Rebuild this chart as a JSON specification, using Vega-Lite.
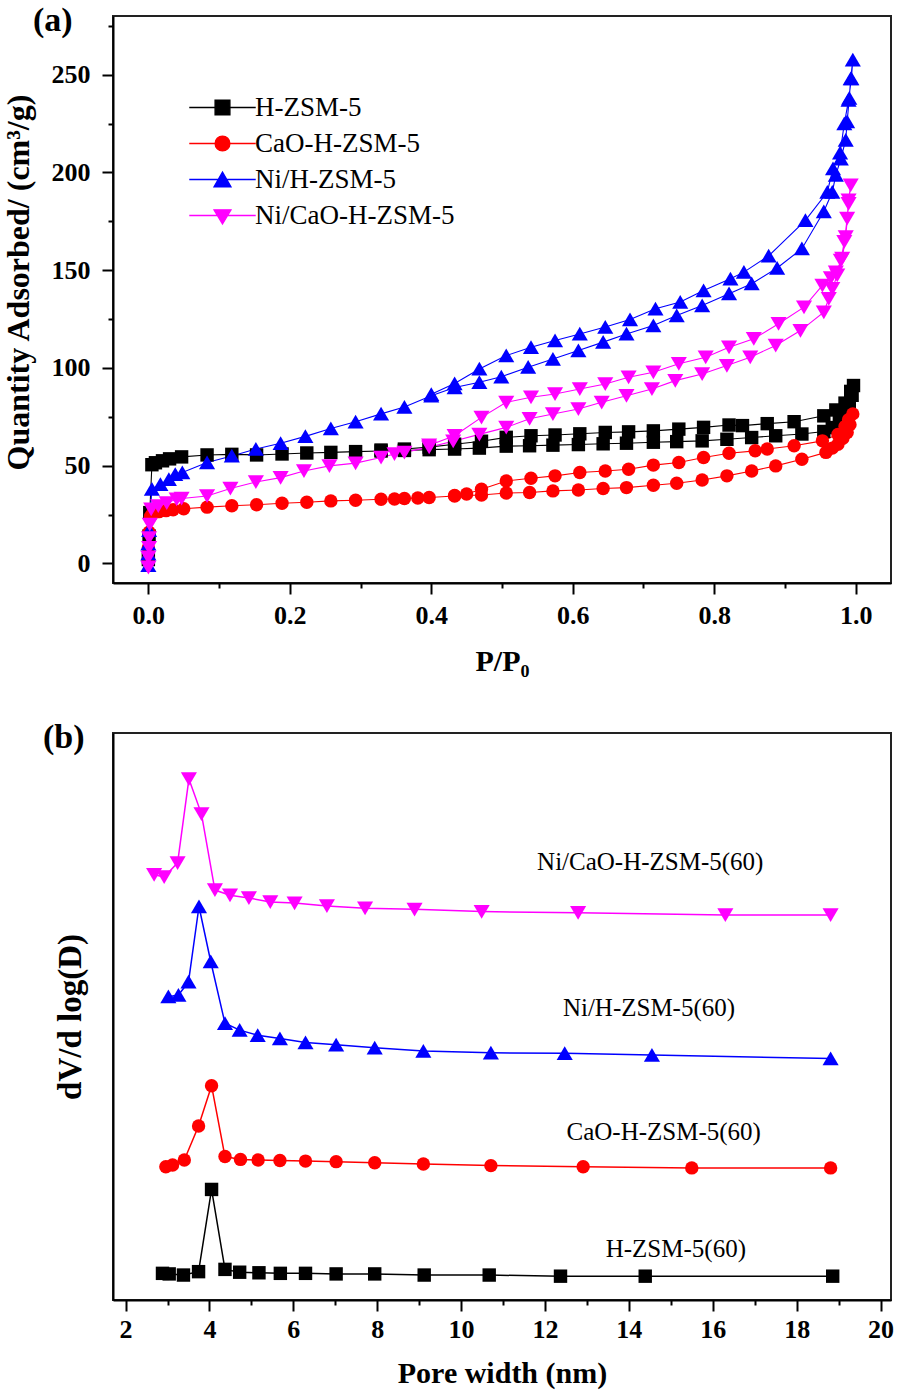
{
  "$schema": "https://vega.github.io/schema/vega-lite/v6.json",
  "padding": {"left": 1, "top": 3, "right": 5, "bottom": 5},
  "spacing": 43,
  "datasets": {
    "iso": [
      {"s":"H-ZSM-5","i":1,"p":0.000,"q":2},{"s":"H-ZSM-5","i":2,"p":0.001,"q":14},{"s":"H-ZSM-5","i":3,"p":0.002,"q":26},{"s":"H-ZSM-5","i":4,"p":0.005,"q":50.5},{"s":"H-ZSM-5","i":5,"p":0.010,"q":51.5},{"s":"H-ZSM-5","i":6,"p":0.020,"q":52.5},{"s":"H-ZSM-5","i":7,"p":0.030,"q":53.5},{"s":"H-ZSM-5","i":8,"p":0.047,"q":54.5},{"s":"H-ZSM-5","i":9,"p":0.083,"q":55.5},{"s":"H-ZSM-5","i":10,"p":0.118,"q":55.8},{"s":"H-ZSM-5","i":11,"p":0.153,"q":55.5},{"s":"H-ZSM-5","i":12,"p":0.189,"q":56.0},{"s":"H-ZSM-5","i":13,"p":0.224,"q":56.5},{"s":"H-ZSM-5","i":14,"p":0.258,"q":56.8},{"s":"H-ZSM-5","i":15,"p":0.293,"q":57.2},{"s":"H-ZSM-5","i":16,"p":0.329,"q":57.5},{"s":"H-ZSM-5","i":17,"p":0.362,"q":57.8},{"s":"H-ZSM-5","i":18,"p":0.397,"q":58.2},{"s":"H-ZSM-5","i":19,"p":0.433,"q":58.5},{"s":"H-ZSM-5","i":20,"p":0.468,"q":59.0},{"s":"H-ZSM-5","i":21,"p":0.506,"q":60.0},{"s":"H-ZSM-5","i":22,"p":0.539,"q":60.2},{"s":"H-ZSM-5","i":23,"p":0.572,"q":60.5},{"s":"H-ZSM-5","i":24,"p":0.608,"q":60.8},{"s":"H-ZSM-5","i":25,"p":0.643,"q":61.2},{"s":"H-ZSM-5","i":26,"p":0.676,"q":61.5},{"s":"H-ZSM-5","i":27,"p":0.714,"q":62.0},{"s":"H-ZSM-5","i":28,"p":0.747,"q":62.3},{"s":"H-ZSM-5","i":29,"p":0.783,"q":62.7},{"s":"H-ZSM-5","i":30,"p":0.818,"q":63.5},{"s":"H-ZSM-5","i":31,"p":0.853,"q":64.4},{"s":"H-ZSM-5","i":32,"p":0.887,"q":65.3},{"s":"H-ZSM-5","i":33,"p":0.924,"q":66.2},{"s":"H-ZSM-5","i":34,"p":0.955,"q":67.5},{"s":"H-ZSM-5","i":35,"p":0.967,"q":69.5},{"s":"H-ZSM-5","i":36,"p":0.977,"q":72.5},{"s":"H-ZSM-5","i":37,"p":0.986,"q":76.5},{"s":"H-ZSM-5","i":38,"p":0.991,"q":81},{"s":"H-ZSM-5","i":39,"p":0.995,"q":86},{"s":"H-ZSM-5","i":40,"p":0.997,"q":91},
      {"s":"H-ZSM-5","i":41,"p":0.993,"q":88},{"s":"H-ZSM-5","i":42,"p":0.985,"q":82},{"s":"H-ZSM-5","i":43,"p":0.972,"q":78.5},{"s":"H-ZSM-5","i":44,"p":0.955,"q":75.5},{"s":"H-ZSM-5","i":45,"p":0.913,"q":72.5},{"s":"H-ZSM-5","i":46,"p":0.875,"q":71.5},{"s":"H-ZSM-5","i":47,"p":0.840,"q":70.5},{"s":"H-ZSM-5","i":48,"p":0.821,"q":70.8},{"s":"H-ZSM-5","i":49,"p":0.785,"q":69.6},{"s":"H-ZSM-5","i":50,"p":0.750,"q":68.7},{"s":"H-ZSM-5","i":51,"p":0.714,"q":67.8},{"s":"H-ZSM-5","i":52,"p":0.679,"q":67.3},{"s":"H-ZSM-5","i":53,"p":0.646,"q":67.0},{"s":"H-ZSM-5","i":54,"p":0.610,"q":66.3},{"s":"H-ZSM-5","i":55,"p":0.575,"q":65.7},{"s":"H-ZSM-5","i":56,"p":0.541,"q":65.3},{"s":"H-ZSM-5","i":57,"p":0.506,"q":64.5},{"s":"H-ZSM-5","i":58,"p":0.471,"q":62.5},{"s":"H-ZSM-5","i":59,"p":0.433,"q":61.0},{"s":"H-ZSM-5","i":60,"p":0.397,"q":59.5},{"s":"H-ZSM-5","i":61,"p":0.362,"q":58.5},{"s":"H-ZSM-5","i":62,"p":0.329,"q":58.0},

      {"s":"CaO-H-ZSM-5","i":1,"p":0.000,"q":2},{"s":"CaO-H-ZSM-5","i":2,"p":0.000,"q":8},{"s":"CaO-H-ZSM-5","i":3,"p":0.001,"q":16},{"s":"CaO-H-ZSM-5","i":4,"p":0.003,"q":24},{"s":"CaO-H-ZSM-5","i":5,"p":0.006,"q":25.5},{"s":"CaO-H-ZSM-5","i":6,"p":0.015,"q":26.5},{"s":"CaO-H-ZSM-5","i":7,"p":0.025,"q":27},{"s":"CaO-H-ZSM-5","i":8,"p":0.035,"q":27.5},{"s":"CaO-H-ZSM-5","i":9,"p":0.050,"q":28},{"s":"CaO-H-ZSM-5","i":10,"p":0.083,"q":28.8},{"s":"CaO-H-ZSM-5","i":11,"p":0.118,"q":29.5},{"s":"CaO-H-ZSM-5","i":12,"p":0.153,"q":30},{"s":"CaO-H-ZSM-5","i":13,"p":0.189,"q":30.8},{"s":"CaO-H-ZSM-5","i":14,"p":0.224,"q":31.3},{"s":"CaO-H-ZSM-5","i":15,"p":0.258,"q":32},{"s":"CaO-H-ZSM-5","i":16,"p":0.293,"q":32.3},{"s":"CaO-H-ZSM-5","i":17,"p":0.329,"q":32.8},{"s":"CaO-H-ZSM-5","i":18,"p":0.348,"q":33},{"s":"CaO-H-ZSM-5","i":19,"p":0.362,"q":33.2},{"s":"CaO-H-ZSM-5","i":20,"p":0.381,"q":33.5},{"s":"CaO-H-ZSM-5","i":21,"p":0.397,"q":33.7},{"s":"CaO-H-ZSM-5","i":22,"p":0.433,"q":34.5},{"s":"CaO-H-ZSM-5","i":23,"p":0.471,"q":35},{"s":"CaO-H-ZSM-5","i":24,"p":0.506,"q":36},{"s":"CaO-H-ZSM-5","i":25,"p":0.539,"q":36.3},{"s":"CaO-H-ZSM-5","i":26,"p":0.572,"q":37.1},{"s":"CaO-H-ZSM-5","i":27,"p":0.608,"q":37.6},{"s":"CaO-H-ZSM-5","i":28,"p":0.643,"q":38.3},{"s":"CaO-H-ZSM-5","i":29,"p":0.676,"q":38.8},{"s":"CaO-H-ZSM-5","i":30,"p":0.714,"q":40},{"s":"CaO-H-ZSM-5","i":31,"p":0.747,"q":41},{"s":"CaO-H-ZSM-5","i":32,"p":0.783,"q":42.7},{"s":"CaO-H-ZSM-5","i":33,"p":0.818,"q":44.8},{"s":"CaO-H-ZSM-5","i":34,"p":0.853,"q":47.3},{"s":"CaO-H-ZSM-5","i":35,"p":0.887,"q":49.9},{"s":"CaO-H-ZSM-5","i":36,"p":0.924,"q":53.3},{"s":"CaO-H-ZSM-5","i":37,"p":0.958,"q":56.8},{"s":"CaO-H-ZSM-5","i":38,"p":0.967,"q":59},{"s":"CaO-H-ZSM-5","i":39,"p":0.975,"q":61},{"s":"CaO-H-ZSM-5","i":40,"p":0.982,"q":64},{"s":"CaO-H-ZSM-5","i":41,"p":0.988,"q":67},{"s":"CaO-H-ZSM-5","i":42,"p":0.992,"q":71},{"s":"CaO-H-ZSM-5","i":43,"p":0.996,"q":76.5},
      {"s":"CaO-H-ZSM-5","i":44,"p":0.990,"q":73.5},{"s":"CaO-H-ZSM-5","i":45,"p":0.985,"q":70},{"s":"CaO-H-ZSM-5","i":46,"p":0.975,"q":66},{"s":"CaO-H-ZSM-5","i":47,"p":0.953,"q":62.7},{"s":"CaO-H-ZSM-5","i":48,"p":0.913,"q":60.2},{"s":"CaO-H-ZSM-5","i":49,"p":0.875,"q":58.5},{"s":"CaO-H-ZSM-5","i":50,"p":0.858,"q":57.6},{"s":"CaO-H-ZSM-5","i":51,"p":0.821,"q":56.4},{"s":"CaO-H-ZSM-5","i":52,"p":0.785,"q":54.2},{"s":"CaO-H-ZSM-5","i":53,"p":0.750,"q":51.6},{"s":"CaO-H-ZSM-5","i":54,"p":0.714,"q":50.3},{"s":"CaO-H-ZSM-5","i":55,"p":0.679,"q":48.2},{"s":"CaO-H-ZSM-5","i":56,"p":0.646,"q":47.3},{"s":"CaO-H-ZSM-5","i":57,"p":0.610,"q":46.5},{"s":"CaO-H-ZSM-5","i":58,"p":0.575,"q":44.8},{"s":"CaO-H-ZSM-5","i":59,"p":0.541,"q":43.6},{"s":"CaO-H-ZSM-5","i":60,"p":0.506,"q":42.2},{"s":"CaO-H-ZSM-5","i":61,"p":0.471,"q":38},{"s":"CaO-H-ZSM-5","i":62,"p":0.450,"q":35.5},{"s":"CaO-H-ZSM-5","i":63,"p":0.433,"q":34.8},

      {"s":"Ni/H-ZSM-5","i":1,"p":0.000,"q":-1},{"s":"Ni/H-ZSM-5","i":2,"p":0.000,"q":5},{"s":"Ni/H-ZSM-5","i":3,"p":0.000,"q":10},{"s":"Ni/H-ZSM-5","i":4,"p":0.001,"q":17},{"s":"Ni/H-ZSM-5","i":5,"p":0.005,"q":38},{"s":"Ni/H-ZSM-5","i":6,"p":0.017,"q":40.5},{"s":"Ni/H-ZSM-5","i":7,"p":0.029,"q":43},{"s":"Ni/H-ZSM-5","i":8,"p":0.038,"q":45.6},{"s":"Ni/H-ZSM-5","i":9,"p":0.048,"q":46.5},{"s":"Ni/H-ZSM-5","i":10,"p":0.083,"q":51.6},{"s":"Ni/H-ZSM-5","i":11,"p":0.118,"q":55},{"s":"Ni/H-ZSM-5","i":12,"p":0.152,"q":58.5},{"s":"Ni/H-ZSM-5","i":13,"p":0.187,"q":61.5},{"s":"Ni/H-ZSM-5","i":14,"p":0.222,"q":65},{"s":"Ni/H-ZSM-5","i":15,"p":0.258,"q":69},{"s":"Ni/H-ZSM-5","i":16,"p":0.293,"q":72.5},{"s":"Ni/H-ZSM-5","i":17,"p":0.329,"q":76.5},{"s":"Ni/H-ZSM-5","i":18,"p":0.362,"q":80},{"s":"Ni/H-ZSM-5","i":19,"p":0.400,"q":85.8},{"s":"Ni/H-ZSM-5","i":20,"p":0.433,"q":90},{"s":"Ni/H-ZSM-5","i":21,"p":0.468,"q":92.7},{"s":"Ni/H-ZSM-5","i":22,"p":0.499,"q":95.5},{"s":"Ni/H-ZSM-5","i":23,"p":0.537,"q":100.4},{"s":"Ni/H-ZSM-5","i":24,"p":0.572,"q":104.6},{"s":"Ni/H-ZSM-5","i":25,"p":0.608,"q":108.9},{"s":"Ni/H-ZSM-5","i":26,"p":0.643,"q":113.2},{"s":"Ni/H-ZSM-5","i":27,"p":0.676,"q":117.4},{"s":"Ni/H-ZSM-5","i":28,"p":0.714,"q":121.7},{"s":"Ni/H-ZSM-5","i":29,"p":0.747,"q":126.8},{"s":"Ni/H-ZSM-5","i":30,"p":0.783,"q":131.9},{"s":"Ni/H-ZSM-5","i":31,"p":0.821,"q":138},{"s":"Ni/H-ZSM-5","i":32,"p":0.853,"q":143.1},{"s":"Ni/H-ZSM-5","i":33,"p":0.889,"q":151.1},{"s":"Ni/H-ZSM-5","i":34,"p":0.924,"q":161},{"s":"Ni/H-ZSM-5","i":35,"p":0.955,"q":180},{"s":"Ni/H-ZSM-5","i":36,"p":0.967,"q":190},{"s":"Ni/H-ZSM-5","i":37,"p":0.972,"q":198.6},{"s":"Ni/H-ZSM-5","i":38,"p":0.979,"q":207},{"s":"Ni/H-ZSM-5","i":39,"p":0.986,"q":216.6},{"s":"Ni/H-ZSM-5","i":40,"p":0.988,"q":226},{"s":"Ni/H-ZSM-5","i":41,"p":0.991,"q":238},{"s":"Ni/H-ZSM-5","i":42,"p":0.993,"q":248},{"s":"Ni/H-ZSM-5","i":43,"p":0.996,"q":257.6},
      {"s":"Ni/H-ZSM-5","i":44,"p":0.994,"q":248},{"s":"Ni/H-ZSM-5","i":45,"p":0.990,"q":237},{"s":"Ni/H-ZSM-5","i":46,"p":0.984,"q":225},{"s":"Ni/H-ZSM-5","i":47,"p":0.978,"q":210},{"s":"Ni/H-ZSM-5","i":48,"p":0.968,"q":202},{"s":"Ni/H-ZSM-5","i":49,"p":0.960,"q":190},{"s":"Ni/H-ZSM-5","i":50,"p":0.929,"q":175.5},{"s":"Ni/H-ZSM-5","i":51,"p":0.877,"q":157.3},{"s":"Ni/H-ZSM-5","i":52,"p":0.842,"q":149},{"s":"Ni/H-ZSM-5","i":53,"p":0.823,"q":145.6},{"s":"Ni/H-ZSM-5","i":54,"p":0.785,"q":139.6},{"s":"Ni/H-ZSM-5","i":55,"p":0.752,"q":133.7},{"s":"Ni/H-ZSM-5","i":56,"p":0.717,"q":130.3},{"s":"Ni/H-ZSM-5","i":57,"p":0.681,"q":124.8},{"s":"Ni/H-ZSM-5","i":58,"p":0.646,"q":120.9},{"s":"Ni/H-ZSM-5","i":59,"p":0.610,"q":117.4},{"s":"Ni/H-ZSM-5","i":60,"p":0.575,"q":114},{"s":"Ni/H-ZSM-5","i":61,"p":0.541,"q":110.6},{"s":"Ni/H-ZSM-5","i":62,"p":0.506,"q":106.3},{"s":"Ni/H-ZSM-5","i":63,"p":0.468,"q":99.5},{"s":"Ni/H-ZSM-5","i":64,"p":0.433,"q":92},{"s":"Ni/H-ZSM-5","i":65,"p":0.400,"q":86.5},

      {"s":"Ni/CaO-H-ZSM-5","i":1,"p":0.000,"q":-2},{"s":"Ni/CaO-H-ZSM-5","i":2,"p":0.000,"q":3},{"s":"Ni/CaO-H-ZSM-5","i":3,"p":0.001,"q":8},{"s":"Ni/CaO-H-ZSM-5","i":4,"p":0.001,"q":13},{"s":"Ni/CaO-H-ZSM-5","i":5,"p":0.002,"q":20},{"s":"Ni/CaO-H-ZSM-5","i":6,"p":0.004,"q":27.7},{"s":"Ni/CaO-H-ZSM-5","i":7,"p":0.014,"q":29.4},{"s":"Ni/CaO-H-ZSM-5","i":8,"p":0.026,"q":31},{"s":"Ni/CaO-H-ZSM-5","i":9,"p":0.040,"q":32.8},{"s":"Ni/CaO-H-ZSM-5","i":10,"p":0.047,"q":33.2},{"s":"Ni/CaO-H-ZSM-5","i":11,"p":0.083,"q":34.5},{"s":"Ni/CaO-H-ZSM-5","i":12,"p":0.116,"q":38.3},{"s":"Ni/CaO-H-ZSM-5","i":13,"p":0.152,"q":41.7},{"s":"Ni/CaO-H-ZSM-5","i":14,"p":0.187,"q":43.9},{"s":"Ni/CaO-H-ZSM-5","i":15,"p":0.220,"q":47.3},{"s":"Ni/CaO-H-ZSM-5","i":16,"p":0.256,"q":49.9},{"s":"Ni/CaO-H-ZSM-5","i":17,"p":0.293,"q":51.3},{"s":"Ni/CaO-H-ZSM-5","i":18,"p":0.329,"q":54.2},{"s":"Ni/CaO-H-ZSM-5","i":19,"p":0.348,"q":56},{"s":"Ni/CaO-H-ZSM-5","i":20,"p":0.362,"q":56.8},{"s":"Ni/CaO-H-ZSM-5","i":21,"p":0.397,"q":59.5},{"s":"Ni/CaO-H-ZSM-5","i":22,"p":0.431,"q":62.5},{"s":"Ni/CaO-H-ZSM-5","i":23,"p":0.468,"q":66},{"s":"Ni/CaO-H-ZSM-5","i":24,"p":0.506,"q":69.6},{"s":"Ni/CaO-H-ZSM-5","i":25,"p":0.539,"q":74},{"s":"Ni/CaO-H-ZSM-5","i":26,"p":0.572,"q":76.4},{"s":"Ni/CaO-H-ZSM-5","i":27,"p":0.608,"q":79},{"s":"Ni/CaO-H-ZSM-5","i":28,"p":0.641,"q":82.4},{"s":"Ni/CaO-H-ZSM-5","i":29,"p":0.676,"q":85.8},{"s":"Ni/CaO-H-ZSM-5","i":30,"p":0.712,"q":89.2},{"s":"Ni/CaO-H-ZSM-5","i":31,"p":0.745,"q":93.5},{"s":"Ni/CaO-H-ZSM-5","i":32,"p":0.783,"q":96.9},{"s":"Ni/CaO-H-ZSM-5","i":33,"p":0.818,"q":101.2},{"s":"Ni/CaO-H-ZSM-5","i":34,"p":0.851,"q":105.5},{"s":"Ni/CaO-H-ZSM-5","i":35,"p":0.887,"q":111.5},{"s":"Ni/CaO-H-ZSM-5","i":36,"p":0.922,"q":119.1},{"s":"Ni/CaO-H-ZSM-5","i":37,"p":0.955,"q":128.5},{"s":"Ni/CaO-H-ZSM-5","i":38,"p":0.962,"q":135.4},{"s":"Ni/CaO-H-ZSM-5","i":39,"p":0.967,"q":140.5},{"s":"Ni/CaO-H-ZSM-5","i":40,"p":0.974,"q":147.4},{"s":"Ni/CaO-H-ZSM-5","i":41,"p":0.979,"q":155},{"s":"Ni/CaO-H-ZSM-5","i":42,"p":0.984,"q":164.5},{"s":"Ni/CaO-H-ZSM-5","i":43,"p":0.988,"q":176.4},{"s":"Ni/CaO-H-ZSM-5","i":44,"p":0.990,"q":185.8},{"s":"Ni/CaO-H-ZSM-5","i":45,"p":0.993,"q":193.5},
      {"s":"Ni/CaO-H-ZSM-5","i":46,"p":0.990,"q":184},{"s":"Ni/CaO-H-ZSM-5","i":47,"p":0.986,"q":167},{"s":"Ni/CaO-H-ZSM-5","i":48,"p":0.981,"q":156},{"s":"Ni/CaO-H-ZSM-5","i":49,"p":0.972,"q":149},{"s":"Ni/CaO-H-ZSM-5","i":50,"p":0.965,"q":146},{"s":"Ni/CaO-H-ZSM-5","i":51,"p":0.953,"q":142.2},{"s":"Ni/CaO-H-ZSM-5","i":52,"p":0.927,"q":131.1},{"s":"Ni/CaO-H-ZSM-5","i":53,"p":0.891,"q":122.6},{"s":"Ni/CaO-H-ZSM-5","i":54,"p":0.856,"q":114.9},{"s":"Ni/CaO-H-ZSM-5","i":55,"p":0.821,"q":110.6},{"s":"Ni/CaO-H-ZSM-5","i":56,"p":0.788,"q":105.5},{"s":"Ni/CaO-H-ZSM-5","i":57,"p":0.750,"q":102.1},{"s":"Ni/CaO-H-ZSM-5","i":58,"p":0.714,"q":97.8},{"s":"Ni/CaO-H-ZSM-5","i":59,"p":0.679,"q":95.2},{"s":"Ni/CaO-H-ZSM-5","i":60,"p":0.646,"q":91.8},{"s":"Ni/CaO-H-ZSM-5","i":61,"p":0.610,"q":89.2},{"s":"Ni/CaO-H-ZSM-5","i":62,"p":0.575,"q":86.7},{"s":"Ni/CaO-H-ZSM-5","i":63,"p":0.541,"q":85},{"s":"Ni/CaO-H-ZSM-5","i":64,"p":0.506,"q":82.4},{"s":"Ni/CaO-H-ZSM-5","i":65,"p":0.471,"q":74.7},{"s":"Ni/CaO-H-ZSM-5","i":66,"p":0.433,"q":65.3},{"s":"Ni/CaO-H-ZSM-5","i":67,"p":0.397,"q":60.5}
    ],
    "psd": [
      {"s":"H-ZSM-5","i":1,"w":2.88,"v":4.7},{"s":"H-ZSM-5","i":2,"w":3.04,"v":4.6},{"s":"H-ZSM-5","i":3,"w":3.38,"v":4.4},{"s":"H-ZSM-5","i":4,"w":3.74,"v":5.0},{"s":"H-ZSM-5","i":5,"w":4.05,"v":19.5},{"s":"H-ZSM-5","i":6,"w":4.37,"v":5.4},{"s":"H-ZSM-5","i":7,"w":4.72,"v":4.9},{"s":"H-ZSM-5","i":8,"w":5.18,"v":4.8},{"s":"H-ZSM-5","i":9,"w":5.69,"v":4.7},{"s":"H-ZSM-5","i":10,"w":6.29,"v":4.7},{"s":"H-ZSM-5","i":11,"w":7.02,"v":4.6},{"s":"H-ZSM-5","i":12,"w":7.94,"v":4.6},{"s":"H-ZSM-5","i":13,"w":9.12,"v":4.4},{"s":"H-ZSM-5","i":14,"w":10.67,"v":4.4},{"s":"H-ZSM-5","i":15,"w":12.37,"v":4.2},{"s":"H-ZSM-5","i":16,"w":14.39,"v":4.2},{"s":"H-ZSM-5","i":17,"w":18.86,"v":4.2},
      {"s":"CaO-H-ZSM-5","i":1,"w":2.96,"v":23.5},{"s":"CaO-H-ZSM-5","i":2,"w":3.12,"v":23.8},{"s":"CaO-H-ZSM-5","i":3,"w":3.40,"v":24.7},{"s":"CaO-H-ZSM-5","i":4,"w":3.74,"v":30.7},{"s":"CaO-H-ZSM-5","i":5,"w":4.05,"v":37.8},{"s":"CaO-H-ZSM-5","i":6,"w":4.37,"v":25.3},{"s":"CaO-H-ZSM-5","i":7,"w":4.74,"v":24.8},{"s":"CaO-H-ZSM-5","i":8,"w":5.16,"v":24.7},{"s":"CaO-H-ZSM-5","i":9,"w":5.68,"v":24.6},{"s":"CaO-H-ZSM-5","i":10,"w":6.29,"v":24.5},{"s":"CaO-H-ZSM-5","i":11,"w":7.02,"v":24.4},{"s":"CaO-H-ZSM-5","i":12,"w":7.94,"v":24.2},{"s":"CaO-H-ZSM-5","i":13,"w":9.10,"v":24.0},{"s":"CaO-H-ZSM-5","i":14,"w":10.71,"v":23.7},{"s":"CaO-H-ZSM-5","i":15,"w":12.91,"v":23.5},{"s":"CaO-H-ZSM-5","i":16,"w":15.50,"v":23.3},{"s":"CaO-H-ZSM-5","i":17,"w":18.81,"v":23.3},
      {"s":"Ni/H-ZSM-5","i":1,"w":3.02,"v":53.5},{"s":"Ni/H-ZSM-5","i":2,"w":3.26,"v":53.8},{"s":"Ni/H-ZSM-5","i":3,"w":3.50,"v":56.1},{"s":"Ni/H-ZSM-5","i":4,"w":3.75,"v":69.4},{"s":"Ni/H-ZSM-5","i":5,"w":4.03,"v":59.7},{"s":"Ni/H-ZSM-5","i":6,"w":4.37,"v":48.8},{"s":"Ni/H-ZSM-5","i":7,"w":4.72,"v":47.6},{"s":"Ni/H-ZSM-5","i":8,"w":5.15,"v":46.7},{"s":"Ni/H-ZSM-5","i":9,"w":5.68,"v":46.1},{"s":"Ni/H-ZSM-5","i":10,"w":6.29,"v":45.4},{"s":"Ni/H-ZSM-5","i":11,"w":7.02,"v":45.0},{"s":"Ni/H-ZSM-5","i":12,"w":7.94,"v":44.5},{"s":"Ni/H-ZSM-5","i":13,"w":9.10,"v":43.9},{"s":"Ni/H-ZSM-5","i":14,"w":10.71,"v":43.6},{"s":"Ni/H-ZSM-5","i":15,"w":12.47,"v":43.5},{"s":"Ni/H-ZSM-5","i":16,"w":14.55,"v":43.2},{"s":"Ni/H-ZSM-5","i":17,"w":18.81,"v":42.6},
      {"s":"Ni/CaO-H-ZSM-5","i":1,"w":2.68,"v":75.0},{"s":"Ni/CaO-H-ZSM-5","i":2,"w":2.92,"v":74.6},{"s":"Ni/CaO-H-ZSM-5","i":3,"w":3.24,"v":77.1},{"s":"Ni/CaO-H-ZSM-5","i":4,"w":3.51,"v":91.9},{"s":"Ni/CaO-H-ZSM-5","i":5,"w":3.81,"v":85.7},{"s":"Ni/CaO-H-ZSM-5","i":6,"w":4.13,"v":72.3},{"s":"Ni/CaO-H-ZSM-5","i":7,"w":4.49,"v":71.4},{"s":"Ni/CaO-H-ZSM-5","i":8,"w":4.94,"v":70.9},{"s":"Ni/CaO-H-ZSM-5","i":9,"w":5.45,"v":70.2},{"s":"Ni/CaO-H-ZSM-5","i":10,"w":6.03,"v":70.0},{"s":"Ni/CaO-H-ZSM-5","i":11,"w":6.80,"v":69.5},{"s":"Ni/CaO-H-ZSM-5","i":12,"w":7.71,"v":69.1},{"s":"Ni/CaO-H-ZSM-5","i":13,"w":8.89,"v":68.9},{"s":"Ni/CaO-H-ZSM-5","i":14,"w":10.49,"v":68.5},{"s":"Ni/CaO-H-ZSM-5","i":15,"w":12.79,"v":68.3},{"s":"Ni/CaO-H-ZSM-5","i":16,"w":16.30,"v":67.9},{"s":"Ni/CaO-H-ZSM-5","i":17,"w":18.81,"v":67.9}
    ],
    "ann": [
      {"t":"Ni/CaO-H-ZSM-5(60)","x":14.51,"y":77.3},
      {"t":"Ni/H-ZSM-5(60)","x":14.48,"y":51.5},
      {"t":"CaO-H-ZSM-5(60)","x":14.83,"y":29.6},
      {"t":"H-ZSM-5(60)","x":15.12,"y":9.0}
    ]
  },
  "vconcat": [
    {
      "width": 778,
      "height": 567,
      "title": {"text": "(a)", "anchor": "start", "frame": "group", "fontSize": 34, "font": "Liberation Serif", "fontWeight": "bold", "color": "#000", "dx": -80, "offset": -39, "baseline": "middle"},
      "layer": [
        {
          "data": {"name": "iso"},
          "mark": {"type": "line", "strokeWidth": 1.1},
          "encoding": {
            "x": {"field": "p", "type": "quantitative", "scale": {"domain": [-0.05, 1.05], "nice": false, "zero": false},
                  "axis": {"title": "P/P₀", "values": [0,0.1,0.2,0.3,0.4,0.5,0.6,0.7,0.8,0.9,1.0],
                           "labelExpr": "round(datum.value*10) % 2 == 0 ? format(datum.value, '.1f') : ''",
                           "tickSize": {"condition": {"test": "round(datum.value*10) % 2 == 0", "value": 11}, "value": 5},
                           "labelPadding": 8, "titlePadding": 18}},
            "y": {"field": "q", "type": "quantitative", "scale": {"domain": [-10, 280], "nice": false, "zero": false},
                  "axis": {"title": "Quantity Adsorbed/ (cm³/g)", "values": [0,25,50,75,100,125,150,175,200,225,250,275],
                           "labelExpr": "datum.value % 50 == 0 ? format(datum.value, 'd') : ''",
                           "tickSize": {"condition": {"test": "datum.value % 50 == 0", "value": 11}, "value": 5},
                           "labelPadding": 12, "titlePadding": 16, "titleFontSize": 32, "titleY": 266}},
            "color": {"field": "s", "type": "nominal", "scale": {"domain": ["H-ZSM-5","CaO-H-ZSM-5","Ni/H-ZSM-5","Ni/CaO-H-ZSM-5"], "range": ["#000000","#ff0000","#0000ff","#ff00ff"]}, "legend": null},
            "order": {"field": "i", "type": "quantitative"}
          }
        },
        {
          "data": {"name": "iso"},
          "mark": {"type": "point", "filled": true, "size": 180, "opacity": 1},
          "encoding": {
            "x": {"field": "p", "type": "quantitative"},
            "y": {"field": "q", "type": "quantitative"},
            "color": {"field": "s", "type": "nominal", "legend": null},
            "shape": {"field": "s", "type": "nominal", "scale": {"domain": ["H-ZSM-5","CaO-H-ZSM-5","Ni/H-ZSM-5","Ni/CaO-H-ZSM-5"], "range": ["square","circle","M0,-1.05L1.2,1L-1.2,1Z","M0,1.05L1.2,-1L-1.2,-1Z"]}, "legend": null}
          }
        },
        {
          "data": {"name": "iso"},
          "transform": [{"filter": "false"}],
          "mark": {"type": "point", "size": 200, "strokeWidth": 1.3, "opacity": 1},
          "encoding": {
            "x": {"field": "p", "type": "quantitative"},
            "y": {"field": "q", "type": "quantitative"},
            "fill": {"field": "s", "type": "nominal", "scale": {"domain": ["H-ZSM-5","CaO-H-ZSM-5","Ni/H-ZSM-5","Ni/CaO-H-ZSM-5"], "range": ["#000000","#ff0000","#0000ff","#ff00ff"]}, "legend": {"title": null}},
            "stroke": {"field": "s", "type": "nominal", "scale": {"domain": ["H-ZSM-5","CaO-H-ZSM-5","Ni/H-ZSM-5","Ni/CaO-H-ZSM-5"], "range": ["#000000","#ff0000","#0000ff","#ff00ff"]}, "legend": {"title": null}},
            "shape": {"field": "s", "type": "nominal", "scale": {"domain": ["H-ZSM-5","CaO-H-ZSM-5","Ni/H-ZSM-5","Ni/CaO-H-ZSM-5"], "range": [
              "M-4.7,0H4.7M-1.05,-1.05H1.05V1.05H-1.05Z",
              "M-4.7,0H4.7M1.05,0A1.05,1.05,0,1,1,-1.05,0A1.05,1.05,0,1,1,1.05,0Z",
              "M-4.7,0H4.7M0,-1.05L1.2,1.05L-1.2,1.05Z",
              "M-4.7,0H4.7M0,1.2L1.2,-0.8L-1.2,-0.8Z"]}, "legend": {"title": null}}
          }
        }
      ],
      "resolve": {"scale": {"shape": "independent", "fill": "independent", "stroke": "independent"}}
    },
    {
      "width": 778,
      "height": 567,
      "title": {"text": "(b)", "anchor": "start", "frame": "group", "fontSize": 34, "font": "Liberation Serif", "fontWeight": "bold", "color": "#000", "dx": -70, "offset": -39, "baseline": "middle"},
      "layer": [
        {
          "data": {"name": "psd"},
          "mark": {"type": "line", "strokeWidth": 1.5},
          "encoding": {
            "x": {"field": "w", "type": "quantitative", "scale": {"domain": [1.7, 20.25], "nice": false, "zero": false},
                  "axis": {"title": "Pore width (nm)", "values": [2,3,4,5,6,7,8,9,10,11,12,13,14,15,16,17,18,19,20],
                           "labelExpr": "datum.value % 2 == 0 ? format(datum.value, 'd') : ''",
                           "tickSize": {"condition": {"test": "datum.value % 2 == 0", "value": 11}, "value": 5},
                           "labelPadding": 5, "titlePadding": 16}},
            "y": {"field": "v", "type": "quantitative", "scale": {"domain": [0, 100], "nice": false, "zero": false},
                  "axis": {"title": "dV/d log(D)", "ticks": false, "labels": false, "titlePadding": 26, "titleFontSize": 33}},
            "color": {"field": "s", "type": "nominal", "scale": {"domain": ["H-ZSM-5","CaO-H-ZSM-5","Ni/H-ZSM-5","Ni/CaO-H-ZSM-5"], "range": ["#000000","#ff0000","#0000ff","#ff00ff"]}, "legend": null},
            "order": {"field": "i", "type": "quantitative"}
          }
        },
        {
          "data": {"name": "psd"},
          "mark": {"type": "point", "filled": true, "size": 180, "opacity": 1},
          "encoding": {
            "x": {"field": "w", "type": "quantitative"},
            "y": {"field": "v", "type": "quantitative"},
            "color": {"field": "s", "type": "nominal", "legend": null},
            "shape": {"field": "s", "type": "nominal", "scale": {"domain": ["H-ZSM-5","CaO-H-ZSM-5","Ni/H-ZSM-5","Ni/CaO-H-ZSM-5"], "range": ["square","circle","M0,-1.05L1.2,1L-1.2,1Z","M0,1.05L1.2,-1L-1.2,-1Z"]}, "legend": null}
          }
        },
        {
          "data": {"name": "ann"},
          "mark": {"type": "text", "font": "Liberation Serif", "fontSize": 25, "color": "#000", "align": "center", "baseline": "middle"},
          "encoding": {
            "x": {"field": "x", "type": "quantitative"},
            "y": {"field": "y", "type": "quantitative"},
            "text": {"field": "t"}
          }
        }
      ]
    }
  ],
  "config": {
    "font": "Liberation Serif",
    "view": {"stroke": "#222", "strokeWidth": 2},
    "axis": {"domainColor": "#000", "domainWidth": 2, "tickColor": "#000", "tickWidth": 2, "grid": false,
             "labelFont": "Liberation Serif", "labelFontWeight": "bold", "labelFontSize": 26, "labelColor": "#000",
             "titleFont": "Liberation Serif", "titleFontWeight": "bold", "titleFontSize": 30, "titleColor": "#000"},
    "legend": {"orient": "none", "legendX": 96, "legendY": 78, "padding": 0, "labelFont": "Liberation Serif", "labelFontSize": 27, "labelColor": "#000", "labelOffset": 19, "rowPadding": 8, "symbolSize": 200, "symbolStrokeWidth": 1.3, "labelLimit": 400}
  }
}
